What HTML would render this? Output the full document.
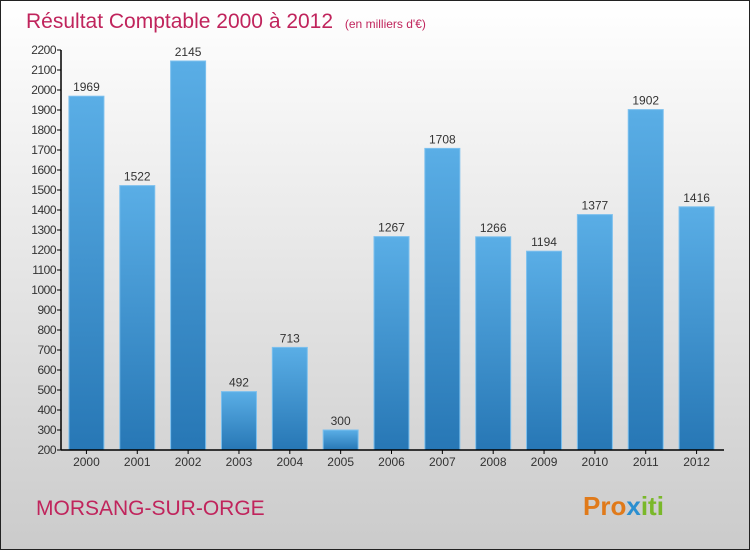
<!DOCTYPE html>
<html><head><meta charset="utf-8"><style>
body{margin:0;}
#wrap{position:relative;width:748px;height:548px;border:1px solid #222;background:linear-gradient(#ffffff,#cbcbcb);overflow:hidden;font-family:"Liberation Sans",sans-serif;}
</style></head><body>
<div id="wrap">
<svg id="chart" width="748" height="548">
<defs><linearGradient id="bg" x1="0" y1="0" x2="0" y2="1"><stop offset="0" stop-color="#5aaee6"/><stop offset="1" stop-color="#2777b5"/></linearGradient></defs>
<text x="25" y="27" font-size="21" fill="#c0245c">Résultat Comptable 2000 à 2012 <tspan font-size="12" dx="6">(en milliers d'€)</tspan></text>
<text x="35" y="514" font-size="21" fill="#c0245c">MORSANG-SUR-ORGE</text>
<text x="582" y="514" font-size="26" font-weight="bold" fill="#e07a1a">Pro<tspan fill="#2a8fd0">x</tspan><tspan fill="#7ab82a">iti</tspan></text>
<g id="plot"></g>
</svg>
</div>
<script>
const categories=["2000","2001","2002","2003","2004","2005","2006","2007","2008","2009","2010","2011","2012"];
const values=[1969,1522,2145,492,713,300,1267,1708,1266,1194,1377,1902,1416];
const yTicks=[200,300,400,500,600,700,800,900,1000,1100,1200,1300,1400,1500,1600,1700,1800,1900,2000,2100,2200];
const x0=60,x1=721,yTop=49,yBot=449,yMin=200,yMax=2200;
const band=(x1-x0)/categories.length;
const y=v=>yBot-(v-yMin)/(yMax-yMin)*(yBot-yTop);
const xc=i=>x0+band*(i+0.5);
const g=document.getElementById('plot');
const NS="http://www.w3.org/2000/svg";
function mk(t,a){const e=document.createElementNS(NS,t);for(const k in a)e.setAttribute(k,a[k]);g.appendChild(e);return e;}
values.forEach((v,i)=>{
 const r=mk('rect',{x:xc(i)-17.5,y:y(v),width:35,height:yBot-y(v),fill:'url(#bg)',stroke:'#7cc0ee','stroke-width':1});
 
 
 const t=mk('text',{x:xc(i),y:y(v)-5,'font-size':12,fill:'#333','text-anchor':'middle'});t.textContent=v;
 
 
 const c=mk('text',{x:xc(i),y:yBot+16,'font-size':12,fill:'#333','text-anchor':'middle'});c.textContent=categories[i];
 
 
 mk('line',{x1:xc(i),x2:xc(i),y1:yBot,y2:yBot+4,stroke:'#000'});
});
yTicks.forEach(v=>{
 mk('line',{x1:x0-4,x2:x0,y1:y(v),y2:y(v),stroke:'#000'});
 const t=mk('text',{x:x0-5,y:y(v)+4,'font-size':12,fill:'#333','text-anchor':'end','letter-spacing':'-0.5'});t.textContent=v;
 
 
});
const ax=mk('line',{x1:x0,x2:x0,y1:yTop,y2:yBot,stroke:'#000','stroke-width':1.5});


const bx=mk('line',{x1:x0,x2:723,y1:yBot,y2:yBot,stroke:'#000','stroke-width':1.5});


</script>
</body></html>
